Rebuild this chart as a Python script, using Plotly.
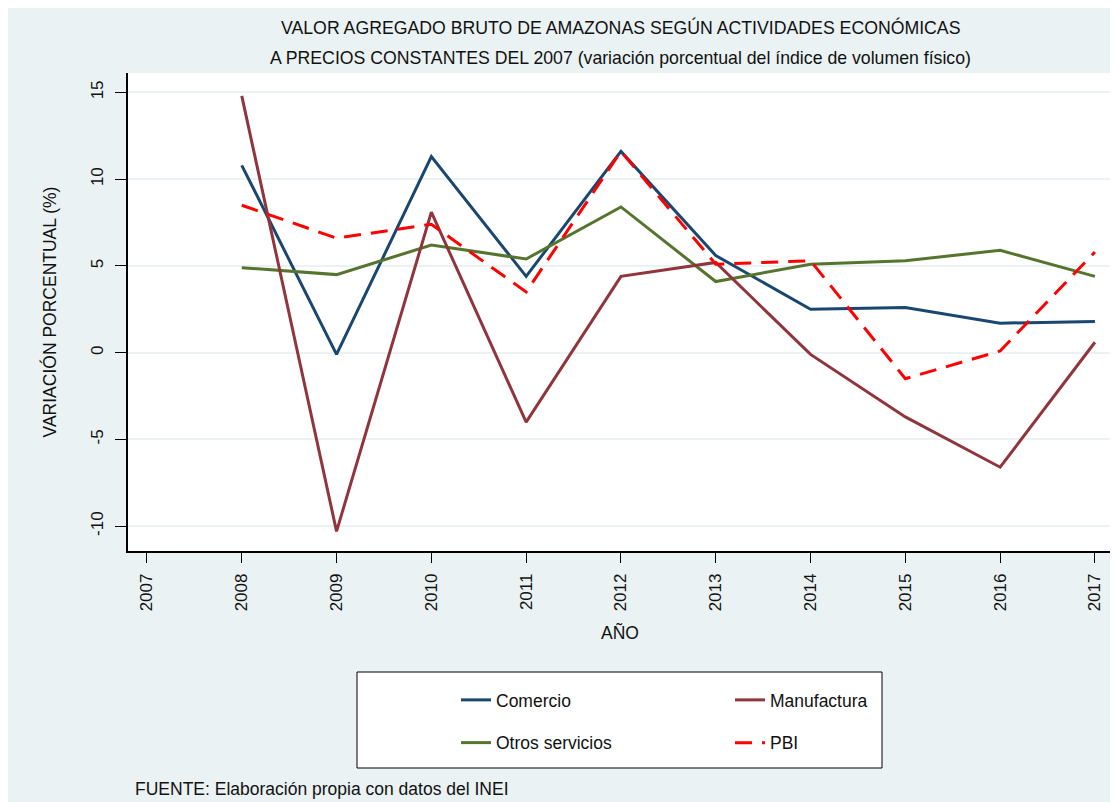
import plotly.graph_objects as go

years = [2008, 2009, 2010, 2011, 2012, 2013, 2014, 2015, 2016, 2017]
comercio = [10.8, -0.1, 11.3, 4.4, 11.6, 5.6, 2.5, 2.6, 1.7, 1.8]
manufactura = [14.8, -10.3, 8.1, -4.0, 4.4, 5.2, -0.1, -3.7, -6.6, 0.6]
otros_servicios = [4.9, 4.5, 6.2, 5.4, 8.4, 4.1, 5.1, 5.3, 5.9, 4.4]
pbi = [8.5, 6.6, 7.4, 3.5, 11.6, 5.1, 5.3, -1.5, 0.1, 5.8]
x_ticks = list(range(2007, 2018))
y_ticks = [-10, -5, 0, 5, 10, 15]

BG = "#EAF2F3"
FONT = "Liberation Sans, Arial, sans-serif"
TXT = "#111111"

fig = go.Figure()
fig.add_trace(go.Scatter(x=years, y=comercio, name="Comercio", mode="lines",
                         line=dict(color="#1a476f", width=3),
                         legend="legend", legendgroup="a"))
fig.add_trace(go.Scatter(x=years, y=otros_servicios, name="Otros servicios", mode="lines",
                         line=dict(color="#55752f", width=3),
                         legend="legend", legendgroup="b"))
fig.add_trace(go.Scatter(x=years, y=manufactura, name="Manufactura", mode="lines",
                         line=dict(color="#90353b", width=3),
                         legend="legend2", legendgroup="c"))
fig.add_trace(go.Scatter(x=years, y=pbi, name="PBI", mode="lines",
                         line=dict(color="#ff0000", width=3, dash="17px,10px"),
                         legend="legend2", legendgroup="d"))

# page body has an 8px margin: figure coords = reference coords - 8
OFF = 8
W, H = 1118 - OFF, 802 - OFF
L, T = 128 - OFF, 73 - OFF
PR, PB = 1112 - OFF, 551 - OFF
R, B = W - PR, H - PB
PW, PH = PR - L, PB - T


def px(x):
    return (x - OFF - L) / PW


def py(y):
    return (PB - (y - OFF)) / PH


legend_common = dict(
    font=dict(family=FONT, size=17.5, color=TXT),
    bgcolor="rgba(0,0,0,0)", borderwidth=0,
    orientation="v", xanchor="left", yanchor="top",
    tracegroupgap=17, traceorder="grouped",
)

fig.update_layout(
    width=W, height=H,
    margin=dict(l=L, r=R, t=T, b=B),
    paper_bgcolor=BG, plot_bgcolor="white",
    font=dict(family=FONT, size=17, color=TXT),
    legend=dict(x=px(456), y=py(682), **legend_common),
    legend2=dict(x=px(730), y=py(682), **legend_common),
    xaxis=dict(
        range=[2006.8, 2017.18], tickmode="array", tickvals=x_ticks,
        ticktext=[str(v) for v in x_ticks], tickangle=-90,
        ticks="outside", ticklen=10, tickcolor="black", tickwidth=1,
        ticklabelstandoff=4,
        showline=True, linecolor="black", linewidth=1.5,
        showgrid=False, zeroline=False,
        tickfont=dict(family=FONT, size=17, color=TXT),
        title=dict(text="AÑO", font=dict(family=FONT, size=17.5, color=TXT), standoff=16),
    ),
    yaxis=dict(
        range=[-11.43, 16.12], tickmode="array", tickvals=y_ticks,
        ticktext=[str(v) for v in y_ticks], tickangle=-90,
        ticks="outside", ticklen=11, tickcolor="black", tickwidth=1,
        ticklabelstandoff=5,
        showline=True, linecolor="black", linewidth=1.5,
        showgrid=True, gridcolor=BG, gridwidth=2, zeroline=False,
        tickfont=dict(family=FONT, size=17, color=TXT),
        title=dict(text="VARIACIÓN PORCENTUAL (%)", font=dict(family=FONT, size=17.5, color=TXT), standoff=27),
    ),
    showlegend=True,
)

# legend frame
fig.add_shape(type="rect", xref="paper", yref="paper",
              x0=px(357), x1=px(882), y0=py(768), y1=py(672),
              line=dict(color="black", width=1), fillcolor="white", layer="below")

fig.add_annotation(text="VALOR AGREGADO BRUTO DE AMAZONAS SEGÚN ACTIVIDADES ECONÓMICAS",
                   xref="paper", yref="paper", x=0.5, y=py(28), xanchor="center", yanchor="middle",
                   showarrow=False, font=dict(family=FONT, size=17.7, color=TXT))
fig.add_annotation(text="A PRECIOS CONSTANTES DEL 2007 (variación porcentual del índice de volumen físico)",
                   xref="paper", yref="paper", x=0.5, y=py(58), xanchor="center", yanchor="middle",
                   showarrow=False, font=dict(family=FONT, size=17.7, color=TXT))
fig.add_annotation(text="FUENTE: Elaboración propia con datos del INEI",
                   xref="paper", yref="paper", x=px(133), y=py(789), xanchor="left", yanchor="middle",
                   showarrow=False, font=dict(family=FONT, size=17.5, color=TXT))

fig.write_html("out.html")
